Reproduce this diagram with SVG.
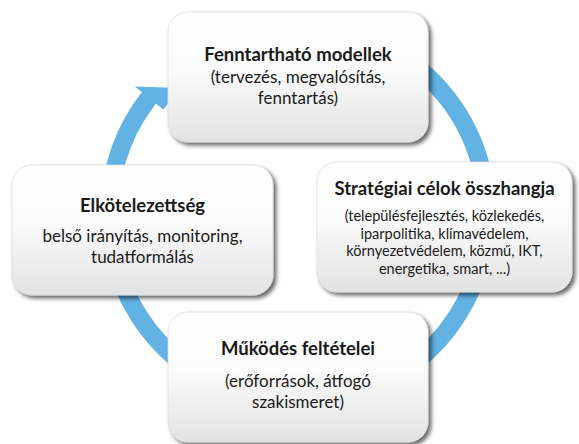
<svg xmlns="http://www.w3.org/2000/svg" width="579" height="444" viewBox="0 0 579 444">
  <defs>
    <linearGradient id="boxFill" x1="0" y1="0" x2="0" y2="1">
      <stop offset="0" stop-color="#ffffff"/>
      <stop offset="0.45" stop-color="#fbfbfb"/>
      <stop offset="1" stop-color="#e2e2e2"/>
    </linearGradient>
    <filter id="shadow" x="-10%" y="-10%" width="125%" height="130%">
      <feDropShadow dx="3" dy="3" stdDeviation="2.2" flood-color="#000" flood-opacity="0.6"/>
    </filter>
  </defs>
  <style>
    .box { fill: url(#boxFill); stroke: #dcdcdc; stroke-width: 0.8; filter: url(#shadow); }
    .ring { fill: none; stroke: #62b2e4; stroke-width: 18; }
    .head { fill: #62b2e4; }
    text { font-family: Lato, "Open Sans", "DejaVu Sans", sans-serif; fill: #1a1a1a; text-anchor: middle; }
    .title { font-weight: bold; font-size: 18.5px; }
    .body { font-size: 17px; }
    .small { font-size: 14.5px; }
  </style>
  <rect width="579" height="444" fill="#ffffff"/>

  <!-- circular arrow running clockwise behind the four boxes -->
  <g id="connectors">
    <path class="ring" d="M 392.5 50.3 A 189 189 0 1 1 149.1 97.6"/>
    <polygon class="head" points="134.9,86.5 180,88 163.3,109.5"/>
  </g>

  <g id="node-models">
    <rect class="box" x="168" y="12" width="260" height="130" rx="20"/>
    <text class="title" x="298" y="61">Fenntartható modellek</text>
    <text class="body" x="298" y="83">(tervezés, megvalósítás,</text>
    <text class="body" x="298" y="104">fenntartás)</text>
  </g>

  <g id="node-strategy">
    <rect class="box" x="317" y="162" width="255" height="130" rx="20"/>
    <text class="title" x="444.5" y="195">Stratégiai célok összhangja</text>
    <text class="small" x="444.5" y="221">(településfejlesztés, közlekedés,</text>
    <text class="small" x="444.5" y="238.5">iparpolitika, klímavédelem,</text>
    <text class="small" x="444.5" y="256">környezetvédelem, közmű, IKT,</text>
    <text class="small" x="444.5" y="273.5">energetika, smart, ...)</text>
  </g>

  <g id="node-commitment">
    <rect class="box" x="12" y="165" width="261" height="130" rx="20"/>
    <text class="title" x="142.5" y="212">Elkötelezettség</text>
    <text class="body" x="142.5" y="242">belső irányítás, monitoring,</text>
    <text class="body" x="142.5" y="262.5">tudatformálás</text>
  </g>

  <g id="node-operation">
    <rect class="box" x="168" y="312" width="260" height="130" rx="20"/>
    <text class="title" x="298" y="355">Működés feltételei</text>
    <text class="body" x="298" y="387">(erőforrások, átfogó</text>
    <text class="body" x="298" y="408">szakismeret)</text>
  </g>
</svg>
